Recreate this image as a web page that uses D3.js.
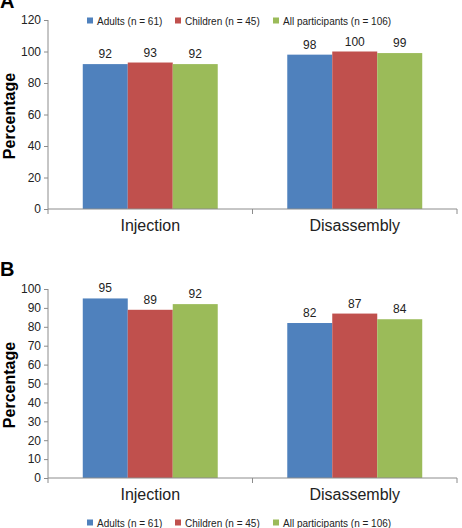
<!DOCTYPE html>
<html>
<head>
<meta charset="utf-8">
<script src="https://cdn.jsdelivr.net/npm/d3@7"></script>
<style>
  body { margin: 0; background: #fff; }
  svg { display: block; font-family: Arial, "Liberation Sans", sans-serif; }
</style>
</head>
<body>
<div id="viz"></div>
<script>
const categories = ['Injection', 'Disassembly'];
const groups = ['Adults (n = 61)', 'Children (n = 45)', 'All participants (n = 106)'];
const colors = ['#4f81bd', '#c0504d', '#9bbb59'];

// panel A values, one array per group (Injection, Disassembly)
const adultsA = [92, 98];
const childrenA = [93, 100];
const allA = [92, 99];
const ticksA = [0, 20, 40, 60, 80, 100, 120];

// panel B values
const adultsB = [95, 82];
const childrenB = [89, 87];
const allB = [92, 84];
const ticksB = [0, 10, 20, 30, 40, 50, 60, 70, 80, 90, 100];

const width = 462;
const height = 528;
const axisColor = '#8c8c8c';

const svg = d3.select('#viz')
      .append('svg')
      .attr('width', width)
      .attr('height', height);

const x0 = d3.scaleBand()
      .domain(categories)
      .range([48, 457])
      .paddingInner(0.34)
      .paddingOuter(0.17);

const x1 = d3.scaleBand()
      .domain(groups)
      .range([0, x0.bandwidth()]);

function legend(y) {
  const lx = [87, 175, 273];
  const g = svg.append('g');
  groups.forEach((name, i) => {
    g.append('rect')
        .attr('x', lx[i])
        .attr('y', y - 3.5)
        .attr('width', 6)
        .attr('height', 6)
        .attr('fill', colors[i]);
    g.append('text')
        .attr('x', lx[i] + 10)
        .attr('y', y + 3.5)
        .attr('font-size', 10)
        .attr('fill', '#222')
        .text(name);
  });
}

function panel(opts) {
  const y = d3.scaleLinear()
        .domain([0, opts.max])
        .range([opts.bottom, opts.top]);

  const series = [opts.adults, opts.children, opts.all];

  // panel letter
  svg.append('text')
      .attr('x', 0)
      .attr('y', opts.letterY)
      .attr('font-size', 20)
      .attr('font-weight', 'bold')
      .attr('fill', '#000')
      .text(opts.letter);

  // y axis
  const yAxis = svg.append('g')
        .attr('transform', 'translate(48,0)')
        .call(d3.axisLeft(y).tickValues(opts.ticks).tickSize(4).tickPadding(3));
  yAxis.select('.domain').attr('stroke', axisColor).attr('d', `M0,${opts.top}V${opts.bottom}`);
  yAxis.selectAll('.tick line').attr('stroke', axisColor);
  yAxis.selectAll('.tick text')
      .attr('font-size', 12)
      .attr('font-family', 'Arial, "Liberation Sans", sans-serif')
      .attr('fill', '#222');

  // y title
  svg.append('text')
      .attr('transform', `translate(15,${opts.titleY}) rotate(-90)`)
      .attr('text-anchor', 'middle')
      .attr('font-size', 16)
      .attr('font-weight', 'bold')
      .attr('fill', '#000')
      .text('Percentage');

  // bars
  const cat = svg.append('g');
  categories.forEach((c, ci) => {
    groups.forEach((gname, gi) => {
      const v = series[gi][ci];
      cat.append('rect')
          .attr('x', x0(c) + x1(gname))
          .attr('y', y(v))
          .attr('width', x1.bandwidth())
          .attr('height', y(0) - y(v))
          .attr('fill', colors[gi]);
      cat.append('text')
          .attr('x', x0(c) + x1(gname) + x1.bandwidth() / 2)
          .attr('y', y(v) - 6)
          .attr('text-anchor', 'middle')
          .attr('font-size', 12)
          .attr('fill', '#222')
          .text(v);
    });
  });

  // x axis
  const xa = svg.append('g');
  xa.append('line')
      .attr('x1', 48).attr('x2', 457)
      .attr('y1', opts.bottom).attr('y2', opts.bottom)
      .attr('stroke', axisColor);
  [48, x0.range()[0] + x0.step(), 457].forEach(px => {
    xa.append('line')
        .attr('x1', px).attr('x2', px)
        .attr('y1', opts.bottom).attr('y2', opts.bottom + 5)
        .attr('stroke', axisColor);
  });
  categories.forEach(c => {
    xa.append('text')
        .attr('x', x0(c) + x0.bandwidth() / 2)
        .attr('y', opts.bottom + 22)
        .attr('text-anchor', 'middle')
        .attr('font-size', 16)
        .attr('fill', '#222')
        .text(c);
  });
}

panel({
  letter: 'A', letterY: 8, max: 120, ticks: ticksA,
  top: 20, bottom: 209, titleY: 116,
  adults: adultsA, children: childrenA, all: allA
});
legend(21);

panel({
  letter: 'B', letterY: 276, max: 100, ticks: ticksB,
  top: 289, bottom: 478, titleY: 385,
  adults: adultsB, children: childrenB, all: allB
});
legend(523);
</script>
</body>
</html>
